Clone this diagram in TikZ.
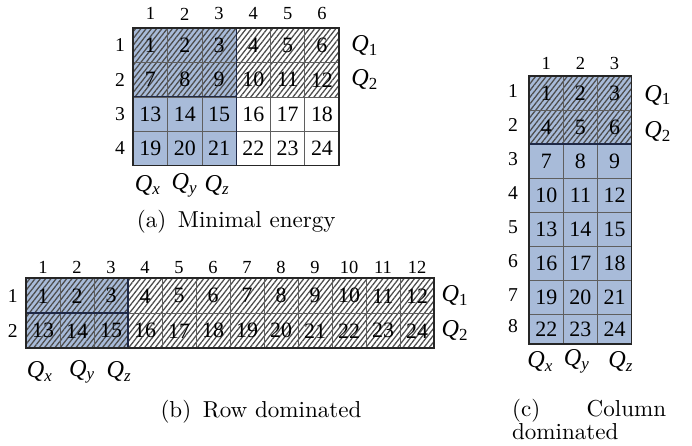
\documentclass[tikz,border=0pt]{standalone}
\usepackage{fontspec}
\newfontfamily\tnr{Liberation Serif}
\usetikzlibrary{patterns.meta}
\definecolor{cellblue}{RGB}{168,187,217}
\definecolor{gridgray}{RGB}{95,95,95}
\definecolor{edgeblue}{RGB}{30,40,70}
\tikzset{
  hatch/.style={pattern={Lines[angle=52,distance=1.8pt,line width=0.55pt]}, pattern color=black!70},
  cellnum/.style={font=\tnr\fontsize{9.5}{11}\selectfont, inner sep=0pt},
  colnum/.style={font=\tnr\fontsize{8}{9}\selectfont, inner sep=0pt},
  rownum/.style={font=\tnr\fontsize{8.5}{10}\selectfont, inner sep=0pt},
  qlabel/.style={font=\tnr\fontsize{10.5}{12}\selectfont, inner sep=0pt},
  gridline/.style={gridgray, line width=0.35pt},
  blueedge/.style={edgeblue, line width=0.5pt},
  border/.style={black!85, line width=0.75pt},
  caption/.style={font=\fontsize{10}{10}\selectfont, inner sep=0pt}
}
\newcommand{\qsub}[1]{{\itshape Q}\textsubscript{#1}}

\begin{document}
\begin{tikzpicture}[x=0.4335pt, y=-0.4335pt]
    \useasboundingbox (0,0) rectangle (692,445);

    % (a) minimal energy
    \begin{scope}[shift={(133.3,28.3)}, x=14.87pt, y=-14.87pt]
    \fill[cellblue] (0,0) rectangle (3,4);
    \fill[hatch] (0,0) rectangle (6,2);
    \foreach \i in {1,...,5} \draw[gridline] (\i,0) -- (\i,4);
    \foreach \j in {1,2,3} \draw[gridline] (0,\j) -- (6,\j);
    \draw[blueedge] (3,0) -- (3,4);
    \draw[blueedge] (0,2) -- (3,2);
    \draw[border] (0,0) rectangle (6,4);
    \foreach \c in {1,...,6} \node[colnum] (a-col\c) at (\c-0.5,-0.42) {\c};
    \foreach \r in {1,...,4} \node[rownum] (a-row\r) at (-0.39,\r-0.5) {\r};
    \foreach \r in {1,...,4} \foreach \c in {1,...,6} {
        \pgfmathtruncatemacro{\n}{(\r-1)*6+\c}
        \node[cellnum] (a-\n) at (\c-0.5,\r-0.5) {\n};
    }
    \node[qlabel] (a-q1) at (6.75,0.5) {\qsub{1}};
    \node[qlabel] (a-q2) at (6.75,1.5) {\qsub{2}};
    \node[qlabel] (a-qx) at (0.43,4.57) {\qsub{\itshape x}};
    \node[qlabel] (a-qy) at (1.5,4.57) {\qsub{\itshape y}};
    \node[qlabel] (a-qz) at (2.45,4.57) {\qsub{\itshape z}};
    \node[caption] (a-cap) at (3,5.65) {(a)\hspace{5pt}Minimal energy};
    \end{scope}

    % (b) row dominated
    \begin{scope}[shift={(26,278.3)}, x=14.74pt, y=-15.17pt]
    \fill[cellblue] (0,0) rectangle (3,2);
    \fill[hatch] (0,0) rectangle (12,2);
    \foreach \i in {1,...,11} \draw[gridline] (\i,0) -- (\i,2);
    \draw[gridline] (0,1) -- (12,1);
    \draw[blueedge, line width=1pt] (0,1) -- (3,1);
    \draw[blueedge] (3,0) -- (3,2);
    \draw[border] (0,0) rectangle (12,2);
    \foreach \c in {1,...,12} \node[colnum] (b-col\c) at (\c-0.5,-0.3) {\c};
    \foreach \r in {1,2} \node[rownum] (b-row\r) at (-0.39,\r-0.5) {\r};
    \foreach \r in {1,2} \foreach \c in {1,...,12} {
        \pgfmathtruncatemacro{\n}{(\r-1)*12+\c}
        \node[cellnum] (b-\n) at (\c-0.5,\r-0.5) {\n};
    }
    \node[qlabel] (b-q1) at (12.62,0.5) {\qsub{1}};
    \node[qlabel] (b-q2) at (12.62,1.5) {\qsub{2}};
    \node[qlabel] (b-qx) at (0.41,2.67) {\qsub{\itshape x}};
    \node[qlabel] (b-qy) at (1.65,2.67) {\qsub{\itshape y}};
    \node[qlabel] (b-qz) at (2.74,2.67) {\qsub{\itshape z}};
    \node[caption] (b-cap) at (6.91,3.81) {(b)\hspace{5pt}Row dominated};
    \end{scope}

    % (c) column dominated
    \begin{scope}[shift={(529.3,76)}, x=14.78pt, y=-14.74pt]
    \fill[cellblue] (0,0) rectangle (3,7.88);
    \fill[hatch] (0,0) rectangle (3,2);
    \foreach \i in {1,2} \draw[gridline] (\i,0) -- (\i,7.88);
    \foreach \j in {1,...,7} \draw[gridline] (0,\j) -- (3,\j);
    \draw[blueedge] (0,2) -- (3,2);
    \draw[border] (0,0) rectangle (3,7.88);
    \foreach \c in {1,2,3} \node[colnum] (c-col\c) at (\c-0.5,-0.37) {\c};
    \foreach \r in {1,...,7} \node[rownum] (c-row\r) at (-0.48,\r-0.55) {\r};
    \node[rownum] (c-row8) at (-0.48,7.35) {8};
    \foreach \r in {1,...,7} \foreach \c in {1,2,3} {
        \pgfmathtruncatemacro{\n}{(\r-1)*3+\c}
        \node[cellnum] (c-\n) at (\c-0.5,\r-0.5) {\n};
    }
    \foreach \c in {1,2,3} {
        \pgfmathtruncatemacro{\n}{21+\c}
        \node[cellnum] (c-\n) at (\c-0.5,7.44) {\n};
    }
    \node[qlabel] (c-q1) at (3.77,0.56) {\qsub{1}};
    \node[qlabel] (c-q2) at (3.77,1.64) {\qsub{2}};
    \node[qlabel] (c-qx) at (0.33,8.4) {\qsub{\itshape x}};
    \node[qlabel] (c-qy) at (1.4,8.4) {\qsub{\itshape y}};
    \node[qlabel] (c-qz) at (2.69,8.4) {\qsub{\itshape z}};
    \node[caption, anchor=north west, text width=66.8pt, align=left] (c-cap) at (-0.52,9.5) {(c)\hfill Column\\dominated};
    \end{scope}
\end{tikzpicture}
\end{document}
